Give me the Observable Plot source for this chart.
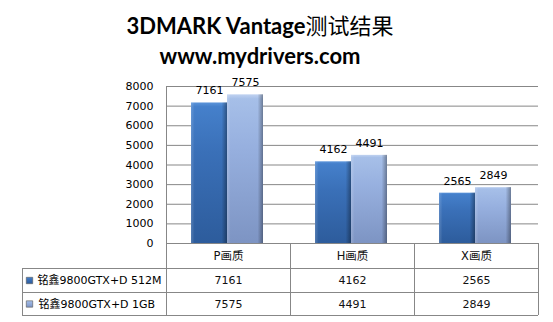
<!DOCTYPE html>
<html>
<head>
<meta charset="utf-8">
<script src="https://cdn.jsdelivr.net/npm/d3@7"></script>
<script src="https://cdn.jsdelivr.net/npm/@observablehq/plot@0.6"></script>
<style>
  body { margin: 0; background: #fff; }
  #title {
    width: 553px; height: 70px; box-sizing: border-box;
    padding: 9px 33px 0 0; text-align: center; color: #000;
    font: bold 22px/30px Lato, "Noto Sans CJK SC", sans-serif;
  }
  #title .cjk { font-weight: normal; font-family: "Noto Sans CJK SC", sans-serif; }
</style>
</head>
<body>
<div id="title">
  <div>3DMARK Vantage<span class="cjk">测试结果</span></div>
  <div>www.mydrivers.com</div>
</div>
<div id="chart"></div>
<script>
// Benchmark scores per quality preset
const categories = ["P画质", "H画质", "X画质"];
const seriesNames = ["铭鑫9800GTX+D 512M", "铭鑫9800GTX+D 1GB"];
const values512 = [7161, 4162, 2565];
const values1GB = [7575, 4491, 2849];
const yTicks = [0, 1000, 2000, 3000, 4000, 5000, 6000, 7000, 8000];

const rows = categories.map((c, i) => ({category: c, a: values512[i], b: values1GB[i]}));

const W = 553, H = 252, ML = 166, MR = 15, MT = 16, MB = 79;
const half = (W - ML - MR) / categories.length / 2;
const font = "'DejaVu Sans', 'Noto Sans CJK SC', sans-serif";
const lineColor = "#878787";

// data table row offsets below the floor (px)
const rowHeader = 12.5, row1 = 37, row2 = 60.5;
const tableLines = [25, 49, 72];

const chart = Plot.plot({
  width: W, height: H,
  marginLeft: ML, marginRight: MR, marginTop: MT, marginBottom: MB,
  style: {fontFamily: font, fontSize: "11px", color: "#000", background: "#fff", overflow: "visible"},
  x: {domain: categories, padding: 0, axis: null},
  y: {domain: [0, 8000], ticks: yTicks, tickSize: 0, tickPadding: 13, label: null, tickFormat: d3.format("d")},
  marks: [
    // back wall gridlines and left edge
    Plot.ruleY(yTicks, {stroke: lineColor}),
    Plot.ruleX([categories[0]], {dx: -half, stroke: lineColor}),

    // bars
    Plot.barY(rows, {x: "category", y: "a", insetLeft: half - 37, insetRight: half + 1, fill: "url(#barDark)"}),
    Plot.barY(rows, {x: "category", y: "a", insetLeft: half - 37, insetRight: half + 1, fill: "url(#barShade)"}),
    Plot.barY(rows, {x: "category", y: "b", insetLeft: half - 1, insetRight: half - 35, fill: "url(#barLight)"}),
    Plot.barY(rows, {x: "category", y: "b", insetLeft: half - 1, insetRight: half - 35, fill: "url(#barShade)"}),

    // value labels
    Plot.text(rows, {x: "category", y: "a", text: d => String(d.a), dx: -19, dy: -12, fill: "#000"}),
    Plot.text(rows, {x: "category", y: "b", text: d => String(d.b), dx: 17, dy: -12, fill: "#000"}),

    // data table grid
    ...tableLines.map(o => Plot.ruleY([0], {dy: o, insetLeft: -144, stroke: lineColor})),
    Plot.ruleX(categories, {y1: 0, y2: 0, dx: -half, insetBottom: -72, stroke: lineColor}),
    Plot.ruleX([categories[categories.length - 1]], {y1: 0, y2: 0, dx: half, insetBottom: -72, stroke: lineColor}),
    Plot.ruleX([categories[0]], {y1: 0, y2: 0, dx: -half - 144, insetTop: 25, insetBottom: -72, stroke: lineColor}),

    // data table cells
    Plot.text(rows, {x: "category", y: 0, text: "category", dy: rowHeader, fill: "#111", fontSize: 11.5}),
    Plot.text(rows, {x: "category", y: 0, text: d => String(d.a), dy: row1, fill: "#111"}),
    Plot.text(rows, {x: "category", y: 0, text: d => String(d.b), dy: row2, fill: "#111"}),

    // series keys in the table
    Plot.dot([seriesNames[0]], {frameAnchor: "left", y: 0, dx: -137, dy: row1, symbol: "square", r: 3.6, fill: "url(#barDark)", stroke: "#555", strokeWidth: 0.6}),
    Plot.dot([seriesNames[1]], {frameAnchor: "left", y: 0, dx: -137, dy: row2, symbol: "square", r: 3.6, fill: "url(#barLight)", stroke: "#555", strokeWidth: 0.6}),
    Plot.text([seriesNames[0]], {frameAnchor: "left", y: 0, text: d => d, dx: -129, dy: row1, textAnchor: "start", fontSize: 11, fill: "#000"}),
    Plot.text([seriesNames[1]], {frameAnchor: "left", y: 0, text: d => d, dx: -128, dy: row2, textAnchor: "start", fontSize: 11, fill: "#000"})
  ]
});

// bar shading gradients
const defs = d3.select(chart).insert("defs", ":first-child");
function vGrad(id, stops) {
  const g = defs.append("linearGradient").attr("id", id).attr("x1", 0).attr("y1", 0).attr("x2", 0).attr("y2", 1);
  stops.forEach(([o, c]) => g.append("stop").attr("offset", o).attr("stop-color", c));
}
vGrad("barDark", [[0, "#5b94da"], [0.03, "#4580cb"], [0.35, "#3a70b8"], [1, "#2d5c9c"]]);
vGrad("barLight", [[0, "#c0d2f0"], [0.03, "#a6bfe8"], [0.35, "#97b0df"], [1, "#7d94c3"]]);
const sh = defs.append("linearGradient").attr("id", "barShade").attr("x1", 0).attr("y1", 0).attr("x2", 1).attr("y2", 0);
[[0, "#fff", 0.18], [0.1, "#fff", 0], [0.85, "#000", 0], [1, "#000", 0.35]].forEach(([o, c, a]) =>
  sh.append("stop").attr("offset", o).attr("stop-color", c).attr("stop-opacity", a));

document.getElementById("chart").append(chart);
</script>
</body>
</html>
